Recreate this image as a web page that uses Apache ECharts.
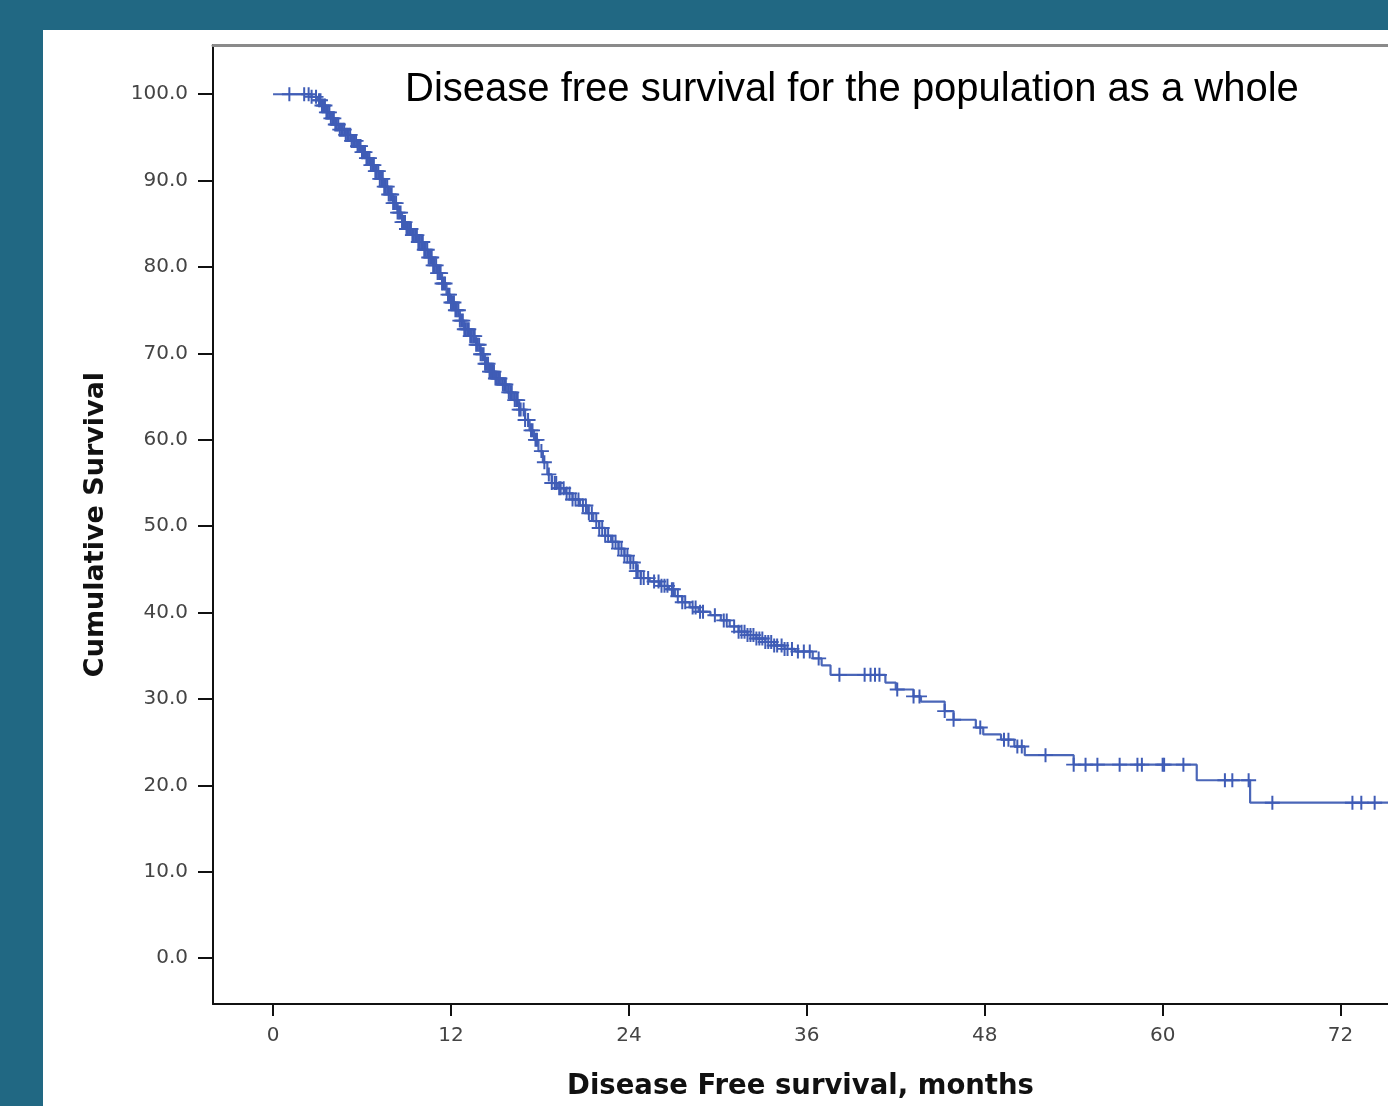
<!DOCTYPE html>
<html>
<head>
<meta charset="utf-8">
<script src="https://cdn.jsdelivr.net/npm/echarts@6/dist/echarts.min.js"></script>
<style>
  html, body { margin: 0; padding: 0; background: #216883; overflow: hidden; }
  #chart { position: absolute; left: 43px; top: 30px; width: 1345px; height: 1076px; background: #ffffff; }
</style>
</head>
<body>
<div id="chart"></div>
<script>
// Kaplan-Meier step points: time (months) and cumulative survival (%)
const stepTimes = [0, 2.6, 3.0, 3.3, 3.6, 3.9, 4.2, 4.5, 4.9, 5.3, 5.7, 6.0, 6.3, 6.6, 6.9, 7.2, 7.5, 7.8, 8.1, 8.4, 8.7, 9.0, 9.4, 9.8, 10.2, 10.5, 10.8, 11.1, 11.4, 11.7, 12.0, 12.3, 12.6, 12.9, 13.3, 13.7, 14.0, 14.3, 14.6, 15.0, 15.4, 15.8, 16.2, 16.6, 17.0, 17.3, 17.6, 17.9, 18.2, 18.5, 18.8, 19.2, 19.7, 20.2, 20.7, 21.2, 21.6, 22.0, 22.4, 22.8, 23.3, 23.7, 24.1, 24.5, 24.8, 25.4, 26.1, 26.7, 27.1, 27.6, 28.1, 28.7, 29.5, 30.2, 30.8, 31.4, 32.0, 32.6, 33.2, 33.8, 34.5, 35.2, 36.4, 37.0, 37.6, 41.3, 42.0, 43.2, 43.7, 45.3, 45.9, 47.4, 47.9, 49.1, 50.0, 50.7, 54.0, 62.3, 65.9, 75.2];
const stepSurv  = [100, 99.7, 99.3, 98.7, 97.9, 97.2, 96.5, 95.9, 95.3, 94.6, 94.0, 93.3, 92.6, 91.8, 91.1, 90.2, 89.3, 88.4, 87.4, 86.3, 85.2, 84.4, 83.7, 82.9, 82.0, 81.1, 80.2, 79.3, 78.1, 76.8, 75.9, 75.0, 73.8, 72.8, 72.0, 71.0, 69.9, 68.8, 67.9, 67.1, 66.4, 65.5, 64.6, 63.5, 62.3, 61.1, 60.0, 58.7, 57.4, 56.0, 55.0, 54.4, 53.8, 53.1, 52.4, 51.5, 50.6, 49.8, 48.9, 48.2, 47.4, 46.6, 45.8, 44.8, 44.0, 43.6, 43.1, 42.7, 41.9, 41.2, 40.6, 40.1, 39.7, 39.1, 38.4, 37.8, 37.4, 37.0, 36.6, 36.2, 35.8, 35.5, 34.7, 33.9, 32.8, 31.9, 31.1, 30.3, 29.7, 28.6, 27.6, 26.7, 25.9, 25.3, 24.5, 23.5, 22.4, 20.6, 18.0, 18.0];
// Censored observation times (months)
const censorTimes = [1.1, 2.1, 2.4, 2.6, 2.9, 3.1, 3.3, 3.5, 3.7, 3.9, 4.1, 4.3, 4.6, 4.8, 5.0, 5.2, 5.5, 5.7, 5.9, 6.1, 6.4, 6.6, 6.8, 7.0, 7.3, 7.6, 7.8, 8.0, 8.3, 8.6, 8.8, 9.1, 9.3, 9.6, 9.9, 10.1, 10.4, 10.7, 11.0, 11.2, 11.5, 11.9, 12.2, 12.5, 12.7, 13.0, 13.2, 13.5, 13.9, 14.2, 14.5, 14.8, 15.1, 15.5, 15.9, 16.3, 16.5, 16.9, 17.4, 17.7, 18.1, 18.6, 19.0, 19.3, 19.6, 20.0, 20.4, 20.9, 21.3, 21.8, 22.2, 22.6, 23.1, 23.5, 23.9, 24.3, 24.6, 25.0, 25.3, 25.7, 26.0, 26.4, 26.9, 27.3, 27.8, 28.3, 28.5, 29.0, 29.8, 30.4, 30.6, 31.1, 31.6, 31.8, 32.2, 32.4, 32.8, 33.0, 33.4, 33.6, 34.0, 34.3, 34.7, 35.0, 35.4, 35.8, 36.2, 36.8, 38.2, 39.9, 40.3, 40.6, 40.9, 42.1, 43.2, 43.6, 45.3, 45.9, 47.7, 49.3, 49.6, 50.2, 50.5, 52.1, 54.0, 54.8, 55.6, 57.1, 58.3, 58.6, 60.0, 60.1, 61.4, 64.2, 64.7, 65.8, 67.4, 72.8, 73.4, 74.3];
const censorTimesDense = [3.2, 3.4, 3.6, 3.8, 4.0, 4.2, 4.4, 4.5, 4.7, 4.9, 5.1, 5.3, 5.4, 5.6, 5.8, 6.0, 6.2, 6.3, 6.5, 6.7, 6.9, 7.1, 7.2, 7.4, 7.5, 7.7, 7.9, 8.1, 8.2, 8.4, 8.5, 8.7, 8.9, 9.0, 9.2, 9.4, 9.5, 9.7, 9.8, 10.0, 10.2, 10.3, 10.5, 10.6, 10.8, 10.9, 11.1, 11.3, 11.4, 11.6, 11.8, 12.0, 12.1, 12.3, 12.4, 12.6, 12.8, 12.9, 13.1, 13.3, 13.4, 13.6, 13.7, 13.8, 14.0, 14.1, 14.3, 14.4, 14.6, 14.7, 14.9, 15.0, 15.2, 15.3, 15.6, 15.7, 16.0, 16.1, 16.4, 16.6, 16.7, 17.0, 17.2, 17.5, 17.8, 18.3, 18.8, 19.1, 19.4, 19.8, 20.2, 20.6, 21.1, 21.5, 22.0, 22.4, 22.9, 23.3, 23.7, 24.1, 24.5, 24.8, 26.2, 26.6, 27.0, 27.6, 28.8, 31.4, 32.0, 32.6, 33.2, 33.8, 34.5];
const xTicks = [0, 12, 24, 36, 48, 60, 72];
const yTicks = [0, 10, 20, 30, 40, 50, 60, 70, 80, 90, 100];
const titleText = 'Disease free survival for the population as a whole';
const xName = 'Disease Free survival, months';
const yName = 'Cumulative Survival';

// survival value of the step curve at time t (censor marks sit on the curve)
function survAt(t) {
  let s = stepSurv[0];
  for (let i = 0; i < stepTimes.length; i++) {
    if (stepTimes[i] <= t) s = stepSurv[i]; else break;
  }
  return s;
}

const lineData = stepTimes.map((t, i) => [t, stepSurv[i]]);
const censorData = censorTimes.concat(censorTimesDense).map(t => [t, survAt(t)]);

const chart = echarts.init(document.getElementById('chart'), null, { renderer: 'canvas' });
const axisFont = 'DejaVu Sans';
chart.setOption({
  animation: false,
  backgroundColor: '#ffffff',
  title: {
    text: titleText,
    left: 357, top: 35,
    textStyle: { fontFamily: 'Liberation Sans', fontSize: 40, fontWeight: 'normal', color: '#000' }
  },
  grid: { left: 170, top: 15, right: 0, bottom: 101 },
  xAxis: [{
    type: 'value', min: -4.05, max: 75.2,
    splitLine: { show: false },
    axisLine: { show: true, onZero: false, lineStyle: { color: '#111', width: 2 } },
    axisTick: { show: true, length: 12, customValues: xTicks, lineStyle: { color: '#111', width: 2 } },
    axisLabel: { customValues: xTicks, margin: 22, fontFamily: axisFont, fontSize: 20, color: '#444' },
    name: xName, nameLocation: 'middle', nameGap: 69,
    nameTextStyle: { fontFamily: axisFont, fontSize: 27.5, fontWeight: 'bold', color: '#111' }
  }, {
    type: 'value', position: 'top', min: -4.05, max: 75.2,
    splitLine: { show: false },
    axisLine: { show: true, onZero: false, lineStyle: { color: '#8a8a8a', width: 3 } },
    axisTick: { show: false }, axisLabel: { show: false }
  }],
  yAxis: {
    type: 'value', min: -5.3, max: 105.7,
    splitLine: { show: false },
    axisLine: { show: true, onZero: false, lineStyle: { color: '#111', width: 2 } },
    axisTick: { show: true, length: 15, customValues: yTicks, lineStyle: { color: '#111', width: 2 } },
    axisLabel: { customValues: yTicks, margin: 25, fontFamily: axisFont, fontSize: 20, color: '#444',
      formatter: v => v.toFixed(1) },
    name: yName, nameLocation: 'middle', nameGap: 104, nameRotate: 90,
    nameTextStyle: { fontFamily: axisFont, fontSize: 27, fontWeight: 'bold', color: '#111' }
  },
  series: [{
    type: 'line', step: 'end', data: lineData, showSymbol: false, symbol: 'none',
    lineStyle: { color: '#4a66b8', width: 2.2 }, z: 2
  }, {
    type: 'scatter', data: censorData,
    symbol: 'path://M0,5.2H12V6.8H0Z M5.2,0H6.8V12H5.2Z',
    symbolSize: [15, 14],
    itemStyle: { color: '#3f5cb6', opacity: 1 }, z: 3
  }]
});
</script>
</body>
</html>
